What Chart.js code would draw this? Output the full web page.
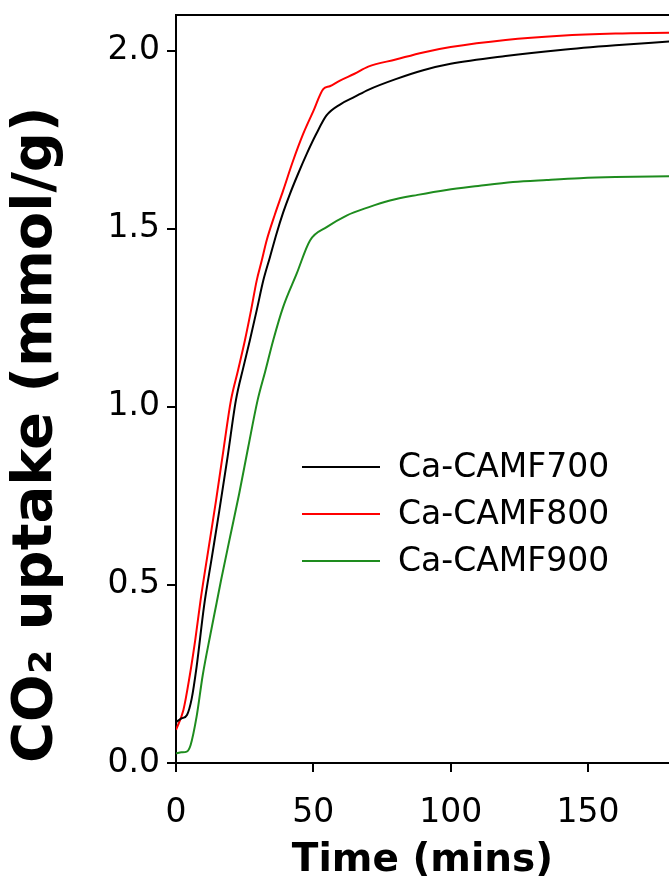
<!DOCTYPE html>
<html>
<head>
<meta charset="utf-8">
<script src="https://cdn.jsdelivr.net/npm/chart.js@4.4.1/dist/chart.umd.min.js"></script>
<style>
  body { margin: 0; background: #fff; }
  canvas { display: block; }
</style>
</head>
<body>
<canvas id="uptakeChart" width="669" height="887"></canvas>
<script>
// series labels and colours
const seriesNames = ['Ca-CAMF700', 'Ca-CAMF800', 'Ca-CAMF900'];
const seriesColors = ['#000000', '#ff0000', '#1e8c1e'];

// CO2 uptake curves, [time (mins), uptake (mmol/g)]
const camf700 = [
    [0, 0.115], [2, 0.125], [4, 0.135], [5.7, 0.18], [7.5, 0.27], [10.2, 0.44],
    [13, 0.575], [15.8, 0.71], [18.8, 0.86], [21.8, 1.018], [24.5, 1.11], [26.9, 1.187],
    [29.5, 1.275], [31.8, 1.355], [34.2, 1.42], [36.6, 1.486], [39, 1.545], [41.5, 1.598],
    [44.5, 1.655], [47.6, 1.71], [51, 1.765], [54.8, 1.818], [60, 1.85], [65, 1.87],
    [70, 1.89], [80, 1.92], [90, 1.945], [100, 1.963], [120, 1.985], [140, 2.002],
    [160, 2.015], [180, 2.026]
];
const camf800 = [
    [0, 0.093], [2.7, 0.149], [5, 0.245], [7, 0.345], [9, 0.46], [11.8, 0.6],
    [14.6, 0.738], [17.3, 0.88], [20, 1.018], [22.5, 1.1], [25.1, 1.187], [27.3, 1.27],
    [29.4, 1.355], [31.2, 1.41], [33, 1.467], [36, 1.54], [39, 1.607], [42.6, 1.69],
    [46.3, 1.766], [50, 1.83], [53.6, 1.892], [56, 1.9], [59.7, 1.916], [65, 1.935],
    [70, 1.955], [80, 1.975], [90, 1.995], [100, 2.01], [120, 2.03], [140, 2.042],
    [160, 2.048], [180, 2.05]
];
const camf900 = [
    [0, 0.027], [2, 0.03], [3.9, 0.032], [5.3, 0.05], [7.5, 0.13], [9.7, 0.245],
    [12.5, 0.36], [14.8, 0.45], [16.4, 0.513], [19.7, 0.635], [23, 0.756], [26.3, 0.887],
    [29.7, 1.018], [32.5, 1.1], [35.4, 1.187], [39, 1.28], [43.9, 1.373], [48.8, 1.467],
    [55, 1.505], [62.1, 1.537], [70, 1.56], [77.9, 1.579], [88, 1.595], [98.5, 1.609],
    [110, 1.62], [122.7, 1.631], [135, 1.637], [147, 1.642], [160, 1.645], [180, 1.647]
];

// axis ranges and ticks
const xMin = 0, xMax = 179.5, xStep = 50;
const yMin = 0, yMax = 2.1, yStep = 0.5;

const FONT = "'DejaVu Sans', Verdana, sans-serif";

function toPoints(rows) {
    return rows.map(r => ({ x: r[0], y: r[1] }));
}

// top frame line (right side is cut off in the picture)
const frameTop = {
    id: 'frameTop',
    afterDraw(chart) {
        const { ctx, chartArea } = chart;
        ctx.save();
        ctx.strokeStyle = '#000';
        ctx.lineWidth = 2;
        ctx.beginPath();
        ctx.moveTo(chartArea.left, chartArea.top);
        ctx.lineTo(chartArea.right, chartArea.top);
        ctx.stroke();
        ctx.restore();
    }
};

// legend drawn inside the plot
const innerLegend = {
    id: 'innerLegend',
    afterDraw(chart) {
        const { ctx, chartArea } = chart;
        const x0 = chartArea.left + 126;
        const y0 = chartArea.top + 452;
        ctx.save();
        ctx.font = '33px ' + FONT;
        ctx.textBaseline = 'middle';
        chart.data.datasets.forEach((ds, i) => {
            const y = y0 + i * 47;
            ctx.strokeStyle = ds.borderColor;
            ctx.lineWidth = 2;
            ctx.beginPath();
            ctx.moveTo(x0, y);
            ctx.lineTo(x0 + 78, y);
            ctx.stroke();
            ctx.fillStyle = '#000';
            ctx.fillText(ds.label, x0 + 96, y + 1);
        });
        ctx.restore();
    }
};

const ctx = document.getElementById('uptakeChart').getContext('2d');
new Chart(ctx, {
    type: 'scatter',
    data: {
        datasets: [camf700, camf800, camf900].map((rows, i) => ({
            label: seriesNames[i],
            data: toPoints(rows),
            showLine: true,
            borderColor: seriesColors[i],
            backgroundColor: seriesColors[i],
            borderWidth: 2,
            pointRadius: 0,
            cubicInterpolationMode: 'monotone'
        }))
    },
    options: {
        responsive: false,
        animation: false,
        devicePixelRatio: 1,
        layout: { padding: { top: 15, right: 0, bottom: 0, left: 0 } },
        plugins: {
            legend: { display: false },
            tooltip: { enabled: false }
        },
        scales: {
            x: {
                type: 'linear',
                min: xMin,
                max: xMax,
                afterFit(scale) {
                    scale.height = 124;
                    scale.paddingRight = 0;
                },
                border: { color: '#000', width: 2 },
                grid: { drawOnChartArea: false, drawTicks: true, tickLength: 9, color: '#000', lineWidth: 2 },
                ticks: {
                    stepSize: xStep,
                    includeBounds: false,
                    padding: 22,
                    color: '#000',
                    font: { family: FONT, size: 33 },
                    maxRotation: 0
                },
                title: {
                    display: true,
                    text: 'Time (mins)',
                    color: '#000',
                    font: { family: FONT, size: 39, weight: 'bold' },
                    padding: { top: 0, bottom: 3 }
                }
            },
            y: {
                type: 'linear',
                min: yMin,
                max: yMax,
                afterFit(scale) {
                    scale.width = 176;
                    scale.paddingTop = 0;
                    scale.paddingBottom = 0;
                },
                border: { color: '#000', width: 2 },
                grid: { drawOnChartArea: false, drawTicks: true, tickLength: 9, color: '#000', lineWidth: 2 },
                ticks: {
                    stepSize: yStep,
                    includeBounds: false,
                    padding: 7,
                    color: '#000',
                    font: { family: FONT, size: 33 },
                    callback: v => v.toFixed(1)
                },
                title: {
                    display: true,
                    text: 'CO₂ uptake (mmol/g)',
                    align: 'start',
                    color: '#000',
                    font: { family: FONT, size: 56, weight: 'bold' },
                    padding: { top: 3, bottom: 0 }
                }
            }
        }
    },
    plugins: [frameTop, innerLegend]
});
</script>
</body>
</html>
